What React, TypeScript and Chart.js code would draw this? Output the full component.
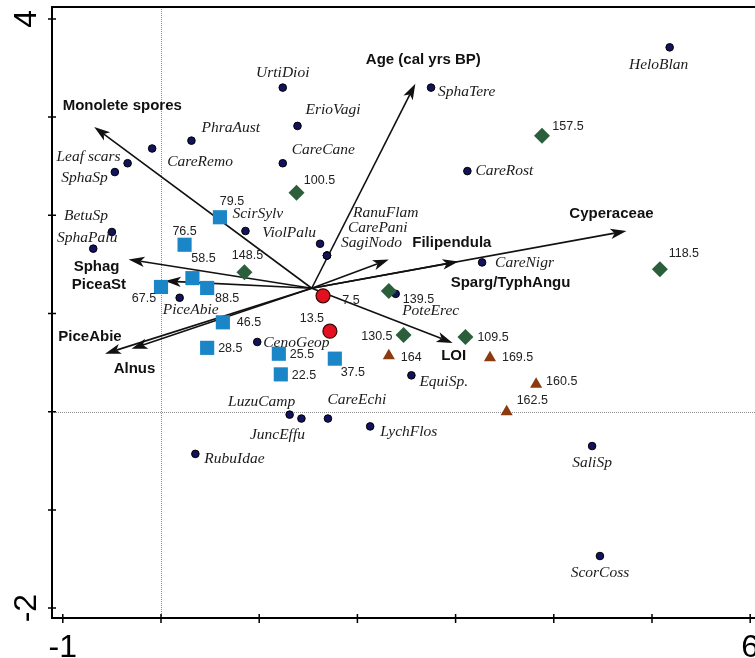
import { useEffect, useRef } from 'react';
import { Chart, registerables } from 'chart.js';

Chart.register(...registerables);

// ---- species scores (axis 1, axis 2) ----
const speciesNames = [
  'HeloBlan', 'SphaTere', 'UrtiDioi', 'ErioVagi', 'PhraAust', 'CareRemo', 'CareCane', 'CareRost',
  'Leaf scars', 'SphaSp', 'BetuSp', 'SphaPalu', 'ScirSylv', 'ViolPalu', 'RanuFlam', 'CarePani',
  'SagiNodo', 'CareNigr', 'PiceAbie', 'PoteErec', 'CenoGeop', 'EquiSp.', 'LuzuCamp', 'JuncEffu',
  'CareEchi', 'LychFlos', 'RubuIdae', 'SaliSp', 'ScorCoss',
];
const speciesX = [
  5.18, 2.75, 1.24, 1.39, 0.31, -0.09, 1.24, 3.12,
  -0.34, -0.47, -0.50, -0.69, 0.86, 1.62, 1.69, 1.69,
  1.69, 3.27, 0.19, 2.39, 0.98, 2.55, 1.31, 1.43,
  1.70, 2.13, 0.35, 4.39, 4.47,
];
const speciesY = [
  3.71, 3.30, 3.30, 2.91, 2.76, 2.68, 2.53, 2.45,
  2.53, 2.44, 1.83, 1.66, 1.84, 1.71, 1.59, 1.59,
  1.59, 1.52, 1.16, 1.20, 0.71, 0.37, -0.03, -0.07,
  -0.07, -0.15, -0.43, -0.35, -1.47,
];

// ---- sample scores, grouped by zone ----
const blueSampleDepths = ['79.5', '76.5', '58.5', '88.5', '67.5', '46.5', '28.5', '25.5', '22.5', '37.5'];
const blueSampleX = [0.60, 0.24, 0.32, 0.47, 0.00, 0.63, 0.47, 1.20, 1.22, 1.77];
const blueSampleY = [1.98, 1.70, 1.36, 1.26, 1.27, 0.91, 0.65, 0.59, 0.38, 0.54];

const greenSampleDepths = ['100.5', '157.5', '148.5', '118.5', '139.5', '130.5', '109.5'];
const greenSampleX = [1.38, 3.88, 0.85, 5.08, 2.32, 2.47, 3.10];
const greenSampleY = [2.23, 2.81, 1.42, 1.45, 1.23, 0.78, 0.76];

const brownSampleDepths = ['164', '169.5', '160.5', '162.5'];
const brownSampleX = [2.32, 3.35, 3.82, 3.52];
const brownSampleY = [0.57, 0.55, 0.28, 0.00];

const redSampleDepths = ['7.5', '13.5'];
const redSampleX = [1.65, 1.72];
const redSampleY = [1.18, 0.82];

// ---- explanatory variables (arrows) ----
const envNames = [
  'Monolete spores', 'Age (cal yrs BP)', 'Cyperaceae', 'Filipendula', 'Sparg/TyphAngu',
  'Sphag', 'PiceaSt', 'PiceAbie', 'Alnus', 'LOI',
];
const envX = [-0.68, 2.59, 4.74, 2.32, 3.03, -0.33, 0.04, -0.57, -0.30, 2.97];
const envY = [2.90, 3.34, 1.84, 1.55, 1.53, 1.55, 1.33, 0.59, 0.64, 0.70];
const envOrigin = [1.535, 1.257];

// axis ranges and tick labels
const xTickValues = [-1, 0, 1, 2, 3, 4, 5, 6];
const yTickValues = [-2, -1, 0, 1, 2, 3, 4];
const xTickLabels = ['-1', '', '', '', '', '', '', '6'];
const yTickLabels = ['-2', '', '', '', '', '', '4'];
const xRange = [-1.11, 6.049];
const yRange = [-2.101, 4.121];

// label placement: [dx px, dy px, align]
type Place = [number, number, CanvasTextAlign];
const speciesLabelAt: Record<string, Place> = {
  HeloBlan: [-11, 18, 'center'],
  SphaTere: [7, 4, 'left'],
  UrtiDioi: [0, -15, 'center'],
  ErioVagi: [8, -16, 'left'],
  PhraAust: [10, -13, 'left'],
  CareRemo: [15, 13, 'left'],
  CareCane: [9, -13, 'left'],
  CareRost: [8, 0, 'left'],
  'Leaf scars': [-7, -6, 'right'],
  SphaSp: [-7, 6, 'right'],
  BetuSp: [-4, -16, 'right'],
  SphaPalu: [-6, -11, 'center'],
  ScirSylv: [-13, -17, 'left'],
  ViolPalu: [-4, -11, 'right'],
  RanuFlam: [26, -43, 'left'],
  CarePani: [21, -28, 'left'],
  SagiNodo: [14, -13, 'left'],
  CareNigr: [13, 1, 'left'],
  PiceAbie: [11, 12, 'center'],
  PoteErec: [35, 17, 'center'],
  CenoGeop: [6, 1, 'left'],
  'EquiSp.': [8, 7, 'left'],
  LuzuCamp: [-28, -13, 'center'],
  JuncEffu: [-24, 16, 'center'],
  CareEchi: [29, -19, 'center'],
  LychFlos: [10, 6, 'left'],
  RubuIdae: [9, 5, 'left'],
  SaliSp: [0, 17, 'center'],
  ScorCoss: [0, 17, 'center'],
};
const sampleLabelAt: Record<string, Place> = {
  '79.5': [12, -16, 'center'],
  '76.5': [0, -13, 'center'],
  '58.5': [11, -20, 'center'],
  '88.5': [20, 11, 'center'],
  '67.5': [-17, 12, 'center'],
  '46.5': [14, 0, 'left'],
  '28.5': [11, 1, 'left'],
  '25.5': [11, 1, 'left'],
  '22.5': [11, 1, 'left'],
  '37.5': [18, 14, 'center'],
  '100.5': [23, -12, 'center'],
  '157.5': [26, -9, 'center'],
  '148.5': [3, -17, 'center'],
  '118.5': [24, -16, 'center'],
  '139.5': [14, 9, 'left'],
  '130.5': [-11, 1, 'right'],
  '109.5': [12, 0, 'left'],
  '164': [12, 2, 'left'],
  '169.5': [12, 0, 'left'],
  '160.5': [10, -3, 'left'],
  '162.5': [10, -11, 'left'],
  '7.5': [28, 5, 'center'],
  '13.5': [-18, -13, 'center'],
};
const envLabelAt: Record<string, [number, number]> = {
  'Monolete spores': [28, -21],
  'Age (cal yrs BP)': [8, -24],
  Cyperaceae: [-15, -17],
  Filipendula: [63, -17],
  'Sparg/TyphAngu': [52, 21],
  Sphag: [-32, 7],
  PiceaSt: [-66, 4],
  PiceAbie: [-15, -17],
  Alnus: [3, 20],
  LOI: [1, 13],
};

const SERIF = '"Liberation Serif", "Times New Roman", serif';
const SANS = '"Liberation Sans", Arial, sans-serif';

function drawArrow(ctx: CanvasRenderingContext2D, x1: number, y1: number, x2: number, y2: number) {
  const a = Math.atan2(y2 - y1, x2 - x1);
  const c = Math.cos(a), s = Math.sin(a);
  const L = 16, hw = 5.2, notch = 4;
  ctx.beginPath();
  ctx.moveTo(x1, y1);
  ctx.lineTo(x2 - c * (L - notch), y2 - s * (L - notch));
  ctx.stroke();
  ctx.beginPath();
  ctx.moveTo(x2, y2);
  ctx.lineTo(x2 - L * c + hw * s, y2 - L * s - hw * c);
  ctx.lineTo(x2 - (L - notch) * c, y2 - (L - notch) * s);
  ctx.lineTo(x2 - L * c - hw * s, y2 - L * s + hw * c);
  ctx.closePath();
  ctx.fill();
}

const biplotPlugin = {
  id: 'biplot',
  beforeDatasetsDraw(chart: any) {
    const { ctx, chartArea: a } = chart;
    const xs = chart.scales.x, ys = chart.scales.y;
    ctx.save();

    // dotted zero lines
    const x0 = Math.round(xs.getPixelForValue(0)) + 0.5;
    const y0 = Math.round(ys.getPixelForValue(0)) + 0.5;
    ctx.strokeStyle = '#8c8c8c';
    ctx.lineWidth = 1;
    ctx.setLineDash([1, 1]);
    ctx.beginPath();
    ctx.moveTo(x0, a.top);
    ctx.lineTo(x0, a.bottom);
    ctx.moveTo(a.left, y0);
    ctx.lineTo(a.right, y0);
    ctx.stroke();
    ctx.setLineDash([]);

    // frame: top, left, bottom
    ctx.strokeStyle = '#000';
    ctx.lineWidth = 2;
    ctx.beginPath();
    ctx.moveTo(a.right, a.top);
    ctx.lineTo(a.left, a.top);
    ctx.lineTo(a.left, a.bottom);
    ctx.lineTo(a.right, a.bottom);
    ctx.stroke();

    // tick marks crossing the axes
    ctx.lineWidth = 1.5;
    ctx.beginPath();
    yTickValues.forEach((v) => {
      const py = ys.getPixelForValue(v);
      ctx.moveTo(a.left - 4, py);
      ctx.lineTo(a.left + 4, py);
    });
    xTickValues.forEach((v) => {
      const px = xs.getPixelForValue(v);
      ctx.moveTo(px, a.bottom - 4);
      ctx.lineTo(px, a.bottom + 5);
    });
    ctx.stroke();

    // tick labels
    ctx.fillStyle = '#000';
    ctx.font = `32px ${SANS}`;
    ctx.textAlign = 'center';
    ctx.textBaseline = 'alphabetic';
    xTickValues.forEach((v, i) => {
      if (!xTickLabels[i]) return;
      ctx.fillText(xTickLabels[i], xs.getPixelForValue(v), a.bottom + 39);
    });
    yTickValues.forEach((v, i) => {
      if (!yTickLabels[i]) return;
      ctx.save();
      ctx.translate(a.left - 16, ys.getPixelForValue(v));
      ctx.rotate(-Math.PI / 2);
      ctx.fillText(yTickLabels[i], 0, 0);
      ctx.restore();
    });

    // explanatory variable arrows
    const ox = xs.getPixelForValue(envOrigin[0]);
    const oy = ys.getPixelForValue(envOrigin[1]);
    ctx.strokeStyle = '#111';
    ctx.fillStyle = '#111';
    ctx.lineWidth = 1.6;
    envNames.forEach((n, i) => {
      drawArrow(ctx, ox, oy, xs.getPixelForValue(envX[i]), ys.getPixelForValue(envY[i]));
    });
    ctx.font = `bold 15px ${SANS}`;
    ctx.textAlign = 'center';
    ctx.textBaseline = 'middle';
    envNames.forEach((n, i) => {
      const [dx, dy] = envLabelAt[n];
      ctx.fillText(n, xs.getPixelForValue(envX[i]) + dx, ys.getPixelForValue(envY[i]) + dy);
    });
    ctx.restore();
  },
  afterDatasetsDraw(chart: any) {
    const { ctx } = chart;
    const xs = chart.scales.x, ys = chart.scales.y;
    ctx.save();
    ctx.textBaseline = 'middle';

    ctx.fillStyle = '#1a1a1a';
    ctx.font = `italic 15.5px ${SERIF}`;
    speciesNames.forEach((n, i) => {
      const [dx, dy, al] = speciesLabelAt[n];
      ctx.textAlign = al;
      ctx.fillText(n, xs.getPixelForValue(speciesX[i]) + dx, ys.getPixelForValue(speciesY[i]) + dy);
    });

    ctx.fillStyle = '#222';
    ctx.font = `12.5px ${SANS}`;
    const groups: [string[], number[], number[]][] = [
      [blueSampleDepths, blueSampleX, blueSampleY],
      [greenSampleDepths, greenSampleX, greenSampleY],
      [brownSampleDepths, brownSampleX, brownSampleY],
      [redSampleDepths, redSampleX, redSampleY],
    ];
    groups.forEach(([labels, gx, gy]) => {
      labels.forEach((t, i) => {
        const [dx, dy, al] = sampleLabelAt[t];
        ctx.textAlign = al;
        ctx.fillText(t, xs.getPixelForValue(gx[i]) + dx, ys.getPixelForValue(gy[i]) + dy);
      });
    });
    ctx.restore();
  },
};

const pts = (xv: number[], yv: number[]) => xv.map((v, i) => ({ x: v, y: yv[i] }));

export default function App() {
  const ref = useRef<HTMLCanvasElement | null>(null);

  useEffect(() => {
    if (!ref.current) return;
    const chart = new Chart(ref.current, {
      type: 'scatter',
      data: {
        datasets: [
          {
            label: 'red',
            data: pts(redSampleX, redSampleY),
            pointStyle: 'circle',
            pointRadius: 7,
            backgroundColor: '#e3101f',
            borderColor: '#3a0505',
            borderWidth: 1.2,
          },
          {
            label: 'green',
            data: pts(greenSampleX, greenSampleY),
            pointStyle: 'rectRot',
            pointRadius: 8,
            backgroundColor: '#2b5f3b',
            borderWidth: 0,
          },
          {
            label: 'blue',
            data: pts(blueSampleX, blueSampleY),
            pointStyle: 'rect',
            pointRadius: 10,
            backgroundColor: '#1a86c8',
            borderWidth: 0,
          },
          {
            label: 'brown',
            data: pts(brownSampleX, brownSampleY),
            pointStyle: 'triangle',
            pointRadius: 7,
            backgroundColor: '#8c3a10',
            borderWidth: 0,
          },
          {
            label: 'species',
            data: pts(speciesX, speciesY),
            pointStyle: 'circle',
            pointRadius: 3.8,
            backgroundColor: '#12125e',
            borderColor: '#000',
            borderWidth: 1,
          },
        ],
      },
      options: {
        responsive: false,
        animation: false,
        events: [],
        layout: { autoPadding: false, padding: { left: 52, top: 7, right: 0, bottom: 40 } },
        plugins: { legend: { display: false }, tooltip: { enabled: false } },
        scales: {
          x: { type: 'linear', display: false, min: xRange[0], max: xRange[1] },
          y: { type: 'linear', display: false, min: yRange[0], max: yRange[1] },
        },
      },
      plugins: [biplotPlugin],
    });
    return () => chart.destroy();
  }, []);

  return (
    <div style={{ position: 'absolute', left: 0, top: 0, width: 755, height: 658, background: '#fff' }}>
      <canvas ref={ref} width={755} height={658} style={{ display: 'block' }} />
    </div>
  );
}
